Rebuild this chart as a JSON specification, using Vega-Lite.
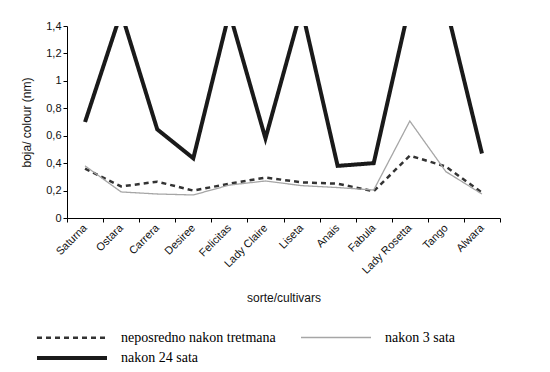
{
  "$schema": "https://vega.github.io/schema/vega-lite/v6.json",
  "autosize": {"type": "none"},
  "padding": {"left": 67, "top": 26, "right": 50, "bottom": 154},
  "width": 433,
  "height": 192,
  "background": "white",
  "config": {
    "view": {"stroke": null},
    "font": "Liberation Sans",
    "axis": {"grid": false, "domainColor": "#000000", "tickColor": "#000000", "labelColor": "#111111", "titleColor": "#111111", "labelFont": "Liberation Sans", "titleFont": "Liberation Sans", "labelFontSize": 11, "titleFontSize": 12, "titleFontWeight": "normal", "tickSize": 4}
  },
  "data": {
    "values": [
      {"cultivar": "Saturna", "series": "neposredno nakon tretmana", "value": 0.36},
      {"cultivar": "Ostara", "series": "neposredno nakon tretmana", "value": 0.23},
      {"cultivar": "Carrera", "series": "neposredno nakon tretmana", "value": 0.265},
      {"cultivar": "Desiree", "series": "neposredno nakon tretmana", "value": 0.2},
      {"cultivar": "Felicitas", "series": "neposredno nakon tretmana", "value": 0.25},
      {"cultivar": "Lady Claire", "series": "neposredno nakon tretmana", "value": 0.295},
      {"cultivar": "Liseta", "series": "neposredno nakon tretmana", "value": 0.26},
      {"cultivar": "Anais", "series": "neposredno nakon tretmana", "value": 0.25},
      {"cultivar": "Fabula", "series": "neposredno nakon tretmana", "value": 0.195},
      {"cultivar": "Lady Rosetta", "series": "neposredno nakon tretmana", "value": 0.455},
      {"cultivar": "Tango", "series": "neposredno nakon tretmana", "value": 0.375},
      {"cultivar": "Alwara", "series": "neposredno nakon tretmana", "value": 0.185},
      {"cultivar": "Saturna", "series": "nakon 3 sata", "value": 0.38},
      {"cultivar": "Ostara", "series": "nakon 3 sata", "value": 0.19},
      {"cultivar": "Carrera", "series": "nakon 3 sata", "value": 0.175},
      {"cultivar": "Desiree", "series": "nakon 3 sata", "value": 0.168},
      {"cultivar": "Felicitas", "series": "nakon 3 sata", "value": 0.24},
      {"cultivar": "Lady Claire", "series": "nakon 3 sata", "value": 0.27},
      {"cultivar": "Liseta", "series": "nakon 3 sata", "value": 0.236},
      {"cultivar": "Anais", "series": "nakon 3 sata", "value": 0.222},
      {"cultivar": "Fabula", "series": "nakon 3 sata", "value": 0.204},
      {"cultivar": "Lady Rosetta", "series": "nakon 3 sata", "value": 0.707},
      {"cultivar": "Tango", "series": "nakon 3 sata", "value": 0.338},
      {"cultivar": "Alwara", "series": "nakon 3 sata", "value": 0.175},
      {"cultivar": "Saturna", "series": "nakon 24 sata", "value": 0.7},
      {"cultivar": "Ostara", "series": "nakon 24 sata", "value": 1.5},
      {"cultivar": "Carrera", "series": "nakon 24 sata", "value": 0.647},
      {"cultivar": "Desiree", "series": "nakon 24 sata", "value": 0.435},
      {"cultivar": "Felicitas", "series": "nakon 24 sata", "value": 1.5},
      {"cultivar": "Lady Claire", "series": "nakon 24 sata", "value": 0.58},
      {"cultivar": "Liseta", "series": "nakon 24 sata", "value": 1.53},
      {"cultivar": "Anais", "series": "nakon 24 sata", "value": 0.38},
      {"cultivar": "Fabula", "series": "nakon 24 sata", "value": 0.4},
      {"cultivar": "Lady Rosetta", "series": "nakon 24 sata", "value": 1.56},
      {"cultivar": "Tango", "series": "nakon 24 sata", "value": 1.55},
      {"cultivar": "Alwara", "series": "nakon 24 sata", "value": 0.47}
    ]
  },
  "mark": {"type": "line", "clip": true, "strokeCap": "butt", "strokeJoin": "miter"},
  "encoding": {
    "x": {
      "field": "cultivar", "type": "nominal",
      "sort": ["Saturna", "Ostara", "Carrera", "Desiree", "Felicitas", "Lady Claire", "Liseta", "Anais", "Fabula", "Lady Rosetta", "Tango", "Alwara"],
      "scale": {"paddingInner": 0, "paddingOuter": 0},
      "axis": {"title": "sorte/cultivars", "labelAngle": -45, "labelAlign": "right", "labelBaseline": "middle", "tickBand": "extent", "labelPadding": 4, "titlePadding": 17}
    },
    "y": {
      "field": "value", "type": "quantitative",
      "scale": {"domain": [0, 1.4], "nice": false},
      "axis": {"title": "boja/ colour (nm)", "values": [0, 0.2, 0.4, 0.6, 0.8, 1, 1.2, 1.4], "labelExpr": "replace(format(datum.value, '~g'), '.', ',')", "titlePadding": 12}
    },
    "color": {
      "field": "series", "type": "nominal",
      "sort": ["neposredno nakon tretmana", "nakon 3 sata", "nakon 24 sata"],
      "scale": {"domain": ["neposredno nakon tretmana", "nakon 3 sata", "nakon 24 sata"], "range": ["#333333", "#a6a6a6", "#1a1a1a"]},
      "legend": {
        "title": null, "orient": "none", "legendX": -38, "legendY": 304, "columns": 2, "direction": "horizontal",
        "symbolType": "M0,0H11.667", "symbolSize": 144, "labelFont": "Liberation Serif", "labelFontSize": 14, "labelColor": "#000000",
        "labelOffset": 76, "columnPadding": 17, "rowPadding": 5
      }
    },
    "strokeDash": {
      "field": "series", "type": "nominal",
      "sort": ["neposredno nakon tretmana", "nakon 3 sata", "nakon 24 sata"],
      "scale": {"domain": ["neposredno nakon tretmana", "nakon 3 sata", "nakon 24 sata"], "range": [[5, 4], [1, 0], [1, 0]]},
      "legend": null
    },
    "strokeWidth": {
      "field": "series", "type": "nominal",
      "sort": ["neposredno nakon tretmana", "nakon 3 sata", "nakon 24 sata"],
      "scale": {"type": "ordinal", "domain": ["neposredno nakon tretmana", "nakon 3 sata", "nakon 24 sata"], "range": [2.5, 1.3, 4]},
      "legend": null
    }
  }
}
